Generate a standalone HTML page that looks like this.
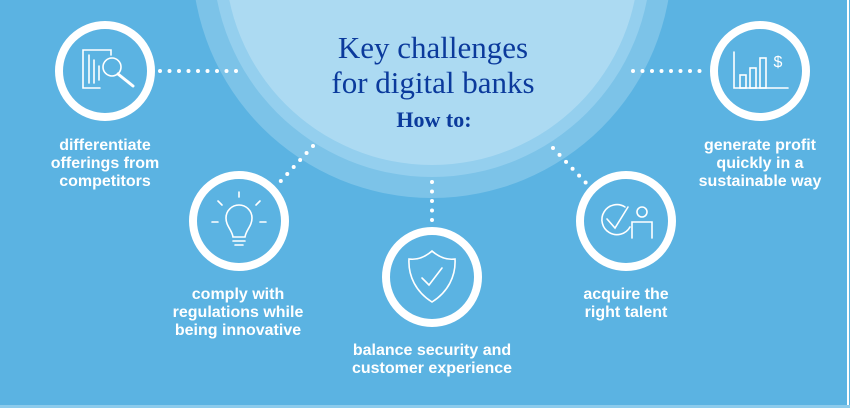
<!DOCTYPE html>
<html><head><meta charset="utf-8"><style>
html,body{margin:0;padding:0;width:850px;height:408px;overflow:hidden;background:#5bb3e2}
svg{display:block}
.l{font-family:"Liberation Sans",sans-serif;font-weight:bold;font-size:16px;fill:#fff;text-anchor:middle}
</style></head><body>
<svg width="850" height="408" viewBox="0 0 850 408">
<rect width="850" height="408" fill="#5bb3e2"/>
<circle cx="432" cy="-42" r="240" fill="#7cc3e8"/>
<circle cx="432" cy="-42" r="219" fill="#94cfee"/>
<circle cx="432" cy="-42" r="207" fill="#acdaf2"/>
<line x1="848" y1="0" x2="848" y2="408" stroke="#fff" stroke-width="2"/>
<line x1="0" y1="406.5" x2="850" y2="406.5" stroke="#8ccbec" stroke-width="3"/>
<text x="433" y="58" font-family="Liberation Serif,serif" font-size="31" fill="#0b3a9c" text-anchor="middle">Key challenges</text>
<text x="433" y="93" font-family="Liberation Serif,serif" font-size="31" fill="#0b3a9c" text-anchor="middle">for digital banks</text>
<text x="434" y="127" font-family="Liberation Serif,serif" font-weight="bold" font-size="22" fill="#0b3a9c" text-anchor="middle">How to:</text>
<g stroke="#fff" stroke-width="4" stroke-linecap="round" stroke-dasharray="0 9.5" fill="none">
<line x1="160" y1="71" x2="240" y2="71"/>
<line x1="633" y1="71" x2="705" y2="71"/>
<line x1="313" y1="146" x2="278" y2="184"/>
<line x1="432" y1="182" x2="432" y2="222"/>
<line x1="553" y1="148" x2="587" y2="184"/>
</g>
<g stroke="#fff" stroke-width="8" fill="none">
<circle cx="105" cy="71" r="46"/>
<circle cx="239" cy="221" r="46"/>
<circle cx="432" cy="277" r="46"/>
<circle cx="626" cy="221" r="46"/>
<circle cx="760" cy="71" r="46"/>
</g>
<g stroke="#fff" stroke-width="1.6" fill="none" stroke-linecap="round">
<path d="M100 88 H83 V50 H111 V55"/><line x1="89" y1="55" x2="89" y2="83"/><line x1="94" y1="60" x2="94" y2="83"/><line x1="99" y1="66" x2="99" y2="80"/>
<circle cx="112" cy="67" r="9"/><line x1="118" y1="74" x2="133" y2="86" stroke-width="3"/>
<path d="M233 237 C232 230 226 226 226 218 A13 13 0 1 1 252 218 C252 226 246 230 245 237 Z"/>
<line x1="233" y1="241" x2="245" y2="241"/><line x1="235" y1="245" x2="243" y2="245"/>
<line x1="239" y1="192" x2="239" y2="197"/><line x1="218" y1="201" x2="222" y2="205"/><line x1="260" y1="201" x2="256" y2="205"/>
<line x1="212" y1="222" x2="218" y2="222"/><line x1="260" y1="222" x2="266" y2="222"/>
<path d="M432 251 C440 258 448 260 455 259 C456 276 448 292 432 302 C416 292 408 276 409 259 C416 260 424 258 432 251 Z"/>
<path d="M422 278 L429 285 L442 268"/>
<path d="M625 207 A15 15 0 1 0 630 227"/><path d="M607 219 L615 228 L628 207"/>
<circle cx="642" cy="212" r="5"/><path d="M632 238 V222 H652 V238"/>
<path d="M734 52 V88 H788"/><rect x="740" y="75" width="6" height="13"/><rect x="750" y="68" width="6" height="20"/><rect x="760" y="58" width="6" height="30"/>
</g>
<text x="778" y="67" font-family="Liberation Sans,sans-serif" font-size="16" fill="#fff" text-anchor="middle">$</text>
<g class="l">
<text class="l" x="105" y="150">differentiate</text>
<text class="l" x="105" y="168">offerings from</text>
<text class="l" x="105" y="186">competitors</text>
<text class="l" x="238" y="299">comply with</text>
<text class="l" x="238" y="317">regulations while</text>
<text class="l" x="238" y="335">being innovative</text>
<text class="l" x="432" y="355">balance security and</text>
<text class="l" x="432" y="373">customer experience</text>
<text class="l" x="626" y="299">acquire the</text>
<text class="l" x="626" y="317">right talent</text>
<text class="l" x="760" y="150">generate profit</text>
<text class="l" x="760" y="168">quickly in a</text>
<text class="l" x="760" y="186">sustainable way</text>
</g>
</svg>
</body></html>
